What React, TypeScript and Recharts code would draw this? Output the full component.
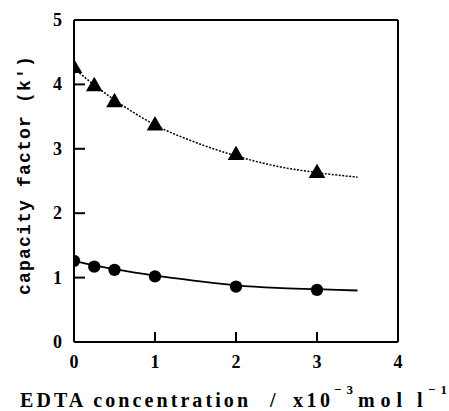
import React from 'react';
import { ComposedChart, Line, Scatter, XAxis, YAxis, ZAxis, ReferenceLine } from 'recharts';

const conc = [0, 0.25, 0.5, 1, 2, 3];
const triangleK = [4.25, 3.97, 3.72, 3.36, 2.9, 2.62];
const circleK = [1.26, 1.17, 1.12, 1.02, 0.86, 0.81];

const fitConc = [0, 0.25, 0.5, 1, 1.5, 2, 2.5, 3, 3.5];
const fitTriangle = [4.25, 3.99, 3.76, 3.37, 3.1, 2.89, 2.73, 2.63, 2.56];
const fitCircle = [1.26, 1.19, 1.13, 1.03, 0.95, 0.88, 0.84, 0.82, 0.8];

const xTicks = [0, 1, 2, 3, 4];
const yTicks = [0, 1, 2, 3, 4, 5];

const triData = conc.map((x, i) => ({ x, y: triangleK[i] }));
const cirData = conc.map((x, i) => ({ x, y: circleK[i] }));
const triFit = fitConc.map((x, i) => ({ x, y: fitTriangle[i] }));
const cirFit = fitConc.map((x, i) => ({ x, y: fitCircle[i] }));

const serifStyle = { fontFamily: "'Liberation Serif', 'DejaVu Serif', serif", fontWeight: 700 };

const XTick = (props: any) => {
  const { x, y, payload } = props;
  const v = payload.value;
  return (
    <g>
      {v > 0 && v < 4 && <line x1={x} x2={x} y1={y} y2={y - 10} stroke="#000" strokeWidth={2} />}
      <text x={x} y={y + 26} textAnchor="middle" style={{ ...serifStyle, fontSize: 18 }} fill="#000">
        {v}
      </text>
    </g>
  );
};

const YTick = (props: any) => {
  const { x, y, payload } = props;
  const v = payload.value;
  return (
    <g>
      {v > 0 && v < 5 && <line x1={x} x2={x + 11} y1={y} y2={y} stroke="#000" strokeWidth={2} />}
      <text x={x - 12} y={y + 6} textAnchor="end" style={{ ...serifStyle, fontSize: 18 }} fill="#000">
        {v}
      </text>
    </g>
  );
};

const big = { ...serifStyle, fontSize: 20 };
const sup = { ...serifStyle, fontSize: 13 };

const XLabel = () => (
  <g fill="#000">
    <text x={20} y={407} style={big} textLength={228} lengthAdjust="spacing">EDTA concentration</text>
    <text x={270} y={407} style={big}>/</text>
    <text x={293} y={407} style={big} textLength={37} lengthAdjust="spacing">x10</text>
    <text x={334} y={394} style={sup} textLength={19} lengthAdjust="spacing">−3</text>
    <text x={358} y={407} style={big} textLength={44} lengthAdjust="spacing">mol</text>
    <text x={417} y={407} style={big}>l</text>
    <text x={428} y={394} style={sup} textLength={19} lengthAdjust="spacing">−1</text>
  </g>
);

const YLabel = () => (
  <text
    x={0}
    y={0}
    transform="translate(25,175) rotate(-90)"
    textAnchor="middle"
    dominantBaseline="central"
    style={{ fontFamily: "'Liberation Mono', monospace", fontWeight: 700, fontSize: 18, letterSpacing: 1.2 }}
    fill="#000"
  >
    capacity factor (k')
  </text>
);

export default function App() {
  return (
    <div style={{ position: 'absolute', left: 0, top: 0, width: 449, height: 411, background: '#fff' }}>
      <ComposedChart width={449} height={411} margin={{ top: 20, right: 51, bottom: 39, left: 54 }}>
        <XAxis
          type="number"
          dataKey="x"
          domain={[0, 4]}
          ticks={xTicks}
          tickSize={0}
          tickMargin={0}
          tickLine={false}
          axisLine={{ stroke: '#000', strokeWidth: 2 }}
          tick={<XTick />}
          height={30}
          allowDataOverflow
          label={<XLabel />}
        />
        <YAxis
          type="number"
          dataKey="y"
          domain={[0, 5]}
          ticks={yTicks}
          tickSize={0}
          tickMargin={0}
          tickLine={false}
          axisLine={{ stroke: '#000', strokeWidth: 2 }}
          tick={<YTick />}
          width={20}
          allowDataOverflow
          label={<YLabel />}
        />
        <ZAxis range={[120, 120]} />
        <ReferenceLine y={5} stroke="#000" strokeWidth={2} />
        <ReferenceLine x={4} stroke="#000" strokeWidth={2} />
        <Line data={triFit} dataKey="y" type="monotone" stroke="#000" strokeWidth={1.5} strokeDasharray="2 1.5" dot={false} isAnimationActive={false} />
        <Line data={cirFit} dataKey="y" type="monotone" stroke="#000" strokeWidth={1.8} dot={false} isAnimationActive={false} />
        <Scatter data={triData} dataKey="y" fill="#000" shape="triangle" isAnimationActive={false} />
        <Scatter data={cirData} dataKey="y" fill="#000" shape="circle" isAnimationActive={false} />
      </ComposedChart>
    </div>
  );
}
